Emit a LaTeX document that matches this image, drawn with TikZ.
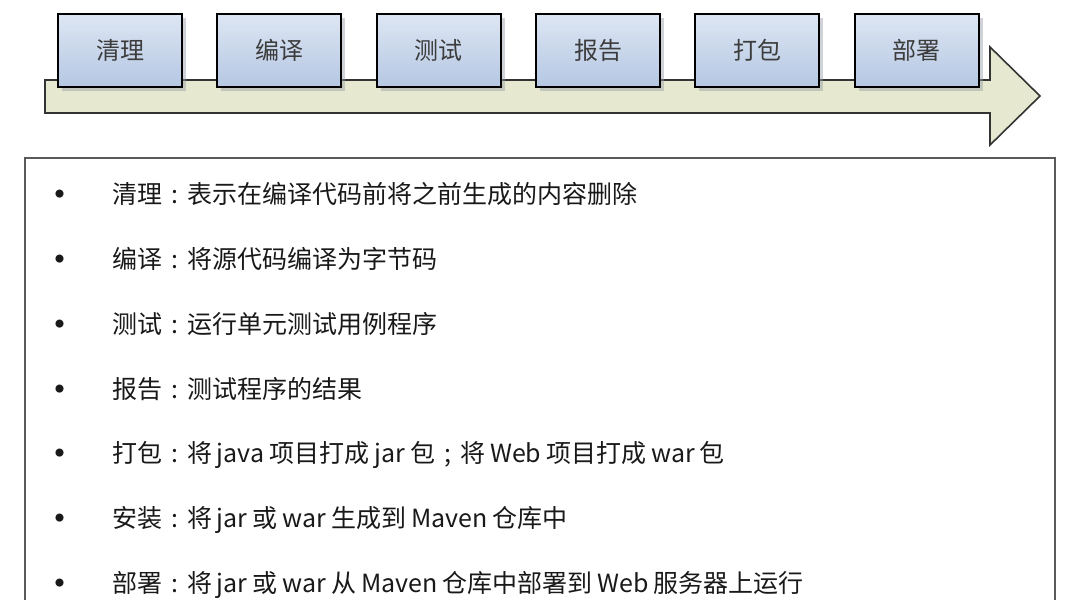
\documentclass[tikz,border=0pt]{standalone}
\usepackage{fontspec}
\setmainfont{Noto Sans CJK SC}
\usepackage{tikz}
\usetikzlibrary{positioning,shadows}

\definecolor{boxtop}{HTML}{DDE6F3}
\definecolor{boxbot}{HTML}{B5C7E3}
\definecolor{arrowfill}{HTML}{E6E9D0}
\definecolor{labelgray}{HTML}{3C3C3C}
\definecolor{framegray}{HTML}{5A5A5A}

\newcommand{\itemdot}{\spaceskip=0.2em\relax\makebox[57pt][l]{\raisebox{6pt}{\fontsize{9}{9}\selectfont ●}}}
\newcommand{\fwcolon}{\makebox[1em][c]{:}}
\newcommand{\fwsemi}{\makebox[1em][c]{;}}

\tikzset{
  stage/.style={draw=black, line width=2.2pt, top color=boxtop, bottom color=boxbot,
    minimum width=124pt, minimum height=73pt, inner sep=0pt,
    font=\fontsize{24}{24}\selectfont, text=labelgray,
    drop shadow={shadow xshift=4pt, shadow yshift=-4pt, fill=gray!60!boxbot, opacity=0.45}},
  item/.style={text width=900pt, align=left, inner sep=0pt,
    font=\fontsize{25}{28}\selectfont, text=black!90}
}

\begin{document}
\begin{tikzpicture}[x=1pt,y=-1pt]
  \useasboundingbox (0,0) rectangle (1083,599);

  % timeline arrow
  \draw[draw=black!80, line width=1.6pt, fill=arrowfill, line join=miter]
    (45,80) -- (990,80) -- (990,47) -- (1040,96) -- (990,145) -- (990,113) -- (45,113) -- cycle;

  \node[stage] (s0) at (120,50.5) {清理};
  \node[stage,right of=s0,xshift=4.6cm] (s1) {编译};
  \node[stage,right of=s1,xshift=4.6cm] (s2) {测试};
  \node[stage,right of=s2,xshift=4.6cm] (s3) {报告};
  \node[stage,right of=s3,xshift=4.6cm] (s4) {打包};
  \node[stage,right of=s4,xshift=4.6cm] (s5) {部署};

  % list frame
  \draw[draw=framegray, line width=1.1pt] (25,158) rectangle (1055,640);

  \node[item] (t0) at (505,194) {\itemdot 清理\fwcolon 表示在编译代码前将之前生成的内容删除};
  \node[item,below of=t0,yshift=-1.29cm] (t1) {\itemdot 编译\fwcolon 将源代码编译为字节码};
  \node[item,below of=t1,yshift=-1.29cm] (t2) {\itemdot 测试\fwcolon 运行单元测试用例程序};
  \node[item,below of=t2,yshift=-1.29cm] (t3) {\itemdot 报告\fwcolon 测试程序的结果};
  \node[item,below of=t3,yshift=-1.29cm] (t4) {\itemdot 打包\fwcolon 将 java 项目打成 jar 包\fwsemi 将 Web 项目打成 war 包};
  \node[item,below of=t4,yshift=-1.29cm] (t5) {\itemdot 安装\fwcolon 将 jar 或 war 生成到 Maven 仓库中};
  \node[item,below of=t5,yshift=-1.29cm] (t6) {\itemdot 部署\fwcolon 将 jar 或 war 从 Maven 仓库中部署到 Web 服务器上运行};

\end{tikzpicture}
\end{document}
